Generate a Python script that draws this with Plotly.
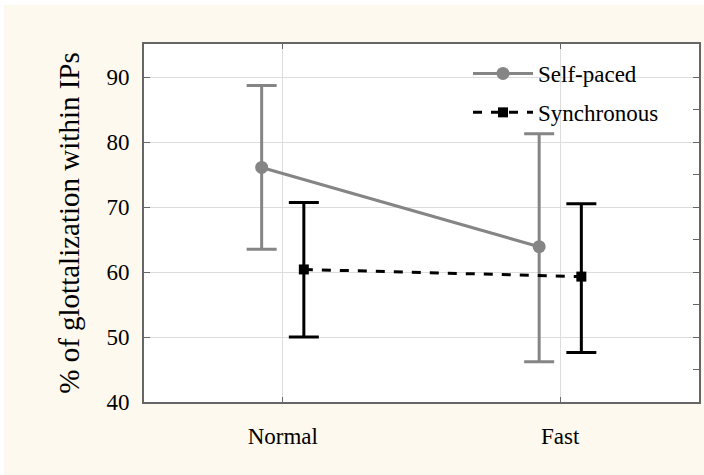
import plotly.graph_objects as go

categories = ["Normal", "Fast"]
series_names = ["Self-paced", "Synchronous"]
self_paced_mean = [76.1, 63.9]
self_paced_upper = [88.7, 81.3]
self_paced_lower = [63.5, 46.2]
sync_mean = [60.4, 59.3]
sync_upper = [70.7, 70.5]
sync_lower = [50.0, 47.6]
y_ticks = [40, 50, 60, 70, 80, 90]

FONT = "Liberation Serif"
CREAM = "#FEF9EE"
GRAY = "#858585"

# layout geometry
L, R, T, B = 144, 5, 44, 73
W, H = 704, 475
pw, ph = W - L - R, H - T - B

xpos = list(range(len(categories)))
off = 0.076

def trace(name, mean, up, lo, shift, color, symbol, size, dash):
    xs = [x + shift for x in xpos]
    return go.Scatter(
        x=xs, y=mean, name=name, legendgroup=name, mode="lines+markers",
        line=dict(color=color, width=3, dash=dash),
        marker=dict(color=color, symbol=symbol, size=size),
        error_y=dict(type="data", symmetric=False,
                     array=[u - m for u, m in zip(up, mean)],
                     arrayminus=[m - l for m, l in zip(mean, lo)],
                     color=color, thickness=3, width=15),
    )

fig = go.Figure()
fig.add_trace(trace(series_names[0], self_paced_mean, self_paced_upper, self_paced_lower,
                    -off, GRAY, "circle", 13, "solid"))
fig.add_trace(trace(series_names[1], sync_mean, sync_upper, sync_lower,
                    off, "black", "square", 10, "9px,9px"))
# invisible trace for right axis
fig.add_trace(go.Scatter(x=[0], y=[60], yaxis="y2", showlegend=False,
                         mode="markers", marker=dict(opacity=0), hoverinfo="skip"))

fig.update_layout(
    width=W, height=H,
    margin=dict(l=L, r=R, t=T, b=B),
    paper_bgcolor=CREAM, plot_bgcolor="white",
    font=dict(family=FONT, size=23, color="black"),
    showlegend=True,
    legend=dict(x=(468 - L) / pw, y=(402 - 52) / ph, xanchor="left", yanchor="top",
                bgcolor="rgba(0,0,0,0)", font=dict(size=23, family=FONT, color="black"),
                itemwidth=60, tracegroupgap=6),
    xaxis=dict(range=[-0.5, 1.5], tickmode="array", tickvals=xpos, ticktext=categories,
               showgrid=True, gridcolor="#dddddd", gridwidth=1, zeroline=False,
               ticks="inside", ticklen=5, tickcolor="#666666", mirror="ticks",
               showline=True, linecolor="#666666", linewidth=2,
               ticklabelstandoff=12, tickfont=dict(size=23, family=FONT, color="black")),
    yaxis=dict(range=[40, 95.1], tickmode="array", tickvals=y_ticks,
               showgrid=True, gridcolor="#dddddd", gridwidth=1, zeroline=False,
               ticks="inside", ticklen=6, tickcolor="#666666",
               showline=True, linecolor="#666666", linewidth=2,
               ticklabelstandoff=8, tickfont=dict(size=23, family=FONT, color="black"),
               title=dict(text="% of glottalization within IPs",
                          font=dict(size=29, family=FONT, color="black"), standoff=18)),
    yaxis2=dict(range=[40, 95.1], overlaying="y", side="right", dtick=5, tick0=40,
                showticklabels=False, showgrid=False, zeroline=False,
                ticks="inside", ticklen=6, tickcolor="#666666",
                showline=True, linecolor="#666666", linewidth=2),
    shapes=[
        dict(type="rect", xref="paper", yref="paper",
             x0=-L / pw, x1=(4 - L) / pw, y0=-B / ph, y1=(H - B) / ph + 0.01,
             fillcolor="white", line=dict(width=0), layer="below"),
        dict(type="rect", xref="paper", yref="paper",
             x0=-L / pw, x1=(W - L) / pw, y0=(H - B - 5) / ph, y1=(H - B) / ph + 0.01,
             fillcolor="white", line=dict(width=0), layer="below"),
    ],
)

fig.write_html("out.html")
